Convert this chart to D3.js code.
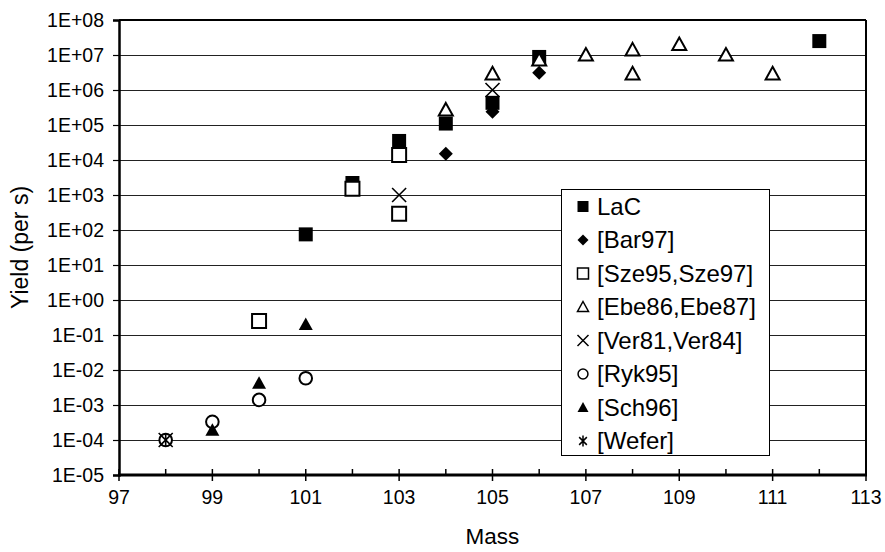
<!DOCTYPE html>
<html>
<head>
<meta charset="utf-8">
<script src="https://cdn.jsdelivr.net/npm/d3@7"></script>
<style>
  body { margin: 0; background: #fff; }
  text { font-family: "Liberation Sans", Arial, sans-serif; fill: #000; }
</style>
</head>
<body>
<div id="chart"></div>
<script>
// series data (mass, yield per s)
const lacMass = [101, 102, 103, 104, 105, 106, 112];
const lacYield = [75, 2200, 35000, 110000, 430000, 8.8e6, 2.5e7];

const barMass = [104, 105, 106];
const barYield = [1.5e4, 2.4e5, 3.1e6];

const szeMass = [100, 102, 103, 103];
const szeYield = [0.25, 1500, 14000, 290];

const ebeMass = [104, 105, 106, 107, 108, 108, 109, 110, 111];
const ebeYield = [2.7e5, 2.9e6, 7.2e6, 1e7, 1.4e7, 2.9e6, 2e7, 1e7, 2.9e6];

const verMass = [98, 103, 105];
const verYield = [1e-4, 1000, 1e6];

const rykMass = [98, 99, 100, 101];
const rykYield = [1e-4, 3.3e-4, 1.4e-3, 5.8e-3];

const schMass = [99, 100, 101];
const schYield = [1.9e-4, 4.2e-3, 0.2];

const weferMass = [98];
const weferYield = [1e-4];

const seriesNames = ["LaC", "[Bar97]", "[Sze95,Sze97]", "[Ebe86,Ebe87]", "[Ver81,Ver84]", "[Ryk95]", "[Sch96]", "[Wefer]"];
const seriesShapes = ["square", "diamond", "osquare", "otriangle", "x", "ocircle", "triangle", "asterisk"];

const xTicks = [97, 99, 101, 103, 105, 107, 109, 111, 113];
const yTicks = [1e-5, 1e-4, 1e-3, 1e-2, 1e-1, 1, 1e1, 1e2, 1e3, 1e4, 1e5, 1e6, 1e7, 1e8];

const series = [
    [lacMass, lacYield], [barMass, barYield], [szeMass, szeYield], [ebeMass, ebeYield],
    [verMass, verYield], [rykMass, rykYield], [schMass, schYield], [weferMass, weferYield]
].map((s, i) => ({
    name: seriesNames[i],
    shape: seriesShapes[i],
    points: s[0].map((m, j) => ({ m: m, v: s[1][j] }))
}));

const svg = d3.select("#chart")
    .append("svg")
    .attr("width", 885)
    .attr("height", 552);

const x = d3.scaleLinear().domain([97, 113]).range([119, 866]);
const y = d3.scaleLog().domain([1e-5, 1e8]).range([475, 20]);

// marker path, centred on 0,0, r = half size
function marker(shape, r) {
    const p = d3.path();
    if (shape == "square" || shape == "osquare") {
        p.rect(-r, -r, 2 * r, 2 * r);
    } else if (shape == "diamond") {
        p.moveTo(0, -r); p.lineTo(r, 0); p.lineTo(0, r); p.lineTo(-r, 0); p.closePath();
    } else if (shape == "triangle" || shape == "otriangle") {
        p.moveTo(0, -r); p.lineTo(r, r * 0.8); p.lineTo(-r, r * 0.8); p.closePath();
    } else if (shape == "ocircle") {
        p.arc(0, 0, r * 0.9, 0, 2 * Math.PI);
    } else if (shape == "x") {
        p.moveTo(-r, -r); p.lineTo(r, r); p.moveTo(r, -r); p.lineTo(-r, r);
    } else if (shape == "asterisk") {
        p.moveTo(-r * 0.7, -r * 0.7); p.lineTo(r * 0.7, r * 0.7);
        p.moveTo(r * 0.7, -r * 0.7); p.lineTo(-r * 0.7, r * 0.7);
        p.moveTo(0, -r); p.lineTo(0, r);
    }
    return p.toString();
}

function styleMarker(sel, shape) {
    const open = ["osquare", "otriangle", "ocircle"].includes(shape);
    const line = shape == "x" || shape == "asterisk";
    sel.attr("fill", line ? "none" : (open ? "#fff" : "#000"))
        .attr("stroke", (open || line) ? "#000" : "none")
        .attr("stroke-width", line ? 1.6 : 2);
}

// gridlines
svg.append("g")
    .selectAll("line")
    .data(yTicks.slice(1))
    .enter()
    .append("line")
    .attr("x1", x(97)).attr("x2", x(113))
    .attr("y1", d => Math.round(y(d)) + 0.5)
    .attr("y2", d => Math.round(y(d)) + 0.5)
    .attr("stroke", "#222")
    .attr("stroke-width", 1);

// frame top / right
svg.append("line")
    .attr("x1", x(97)).attr("x2", x(113)).attr("y1", y(1e8)).attr("y2", y(1e8))
    .attr("stroke", "#000").attr("stroke-width", 2);
svg.append("line")
    .attr("x1", x(113)).attr("x2", x(113)).attr("y1", y(1e8)).attr("y2", y(1e-5))
    .attr("stroke", "#000").attr("stroke-width", 2);

// Y axis
const yAxis = svg.append("g")
    .attr("transform", "translate(" + x(97) + ",0)")
    .call(d3.axisLeft(y).tickValues(yTicks).tickSize(6).tickPadding(9)
        .tickFormat(d => {
            const e = Math.round(Math.log10(d));
            return "1E" + (e < 0 ? "-" : "+") + String(Math.abs(e)).padStart(2, "0");
        }));
yAxis.select(".domain").attr("stroke-width", 2.5);
yAxis.selectAll(".tick line").attr("stroke-width", 1.2);
yAxis.selectAll("text").style("font-size", "19.5px").attr("font-family", null);

// X axis: minor ticks inside, major ticks crossing
svg.append("g")
    .selectAll("line")
    .data(d3.range(97, 114))
    .enter()
    .append("line")
    .attr("x1", d => x(d)).attr("x2", d => x(d))
    .attr("y1", y(1e-5) - 6)
    .attr("y2", d => xTicks.includes(d) ? y(1e-5) + 6 : y(1e-5))
    .attr("stroke", "#000")
    .attr("stroke-width", 1.5);

svg.append("line")
    .attr("x1", x(97) - 1).attr("x2", x(113) + 1).attr("y1", y(1e-5)).attr("y2", y(1e-5))
    .attr("stroke", "#000").attr("stroke-width", 3);

svg.append("g")
    .selectAll("text")
    .data(xTicks)
    .enter()
    .append("text")
    .attr("x", d => x(d))
    .attr("y", 504)
    .attr("text-anchor", "middle")
    .style("font-size", "19.5px")
    .text(d => d);

// axis titles
svg.append("text")
    .attr("x", (x(97) + x(113)) / 2)
    .attr("y", 544)
    .attr("text-anchor", "middle")
    .style("font-size", "22.5px")
    .text("Mass");

svg.append("text")
    .attr("transform", "translate(28," + (y(1e-5) + y(1e8)) / 2 + ") rotate(-90)")
    .attr("text-anchor", "middle")
    .style("font-size", "23px")
    .text("Yield (per s)");

// points
series.forEach(s => {
    svg.append("g")
        .selectAll("path")
        .data(s.points)
        .enter()
        .append("path")
        .attr("transform", d => "translate(" + x(d.m) + "," + y(d.v) + ")")
        .attr("d", marker(s.shape, 7))
        .call(styleMarker, s.shape);
});

// legend
const legend = svg.append("g");
legend.append("rect")
    .attr("x", 561.5).attr("y", 189.5)
    .attr("width", 208).attr("height", 266)
    .attr("fill", "#fff")
    .attr("stroke", "#000")
    .attr("stroke-width", 1);

const item = legend.selectAll(".legend")
    .data(series)
    .enter().append("g")
    .attr("class", "legend")
    .attr("transform", (d, i) => "translate(0," + (206.5 + i * 33.5) + ")");

item.append("path")
    .attr("transform", "translate(583,0)")
    .attr("d", d => marker(d.shape, 5.5))
    .each(function(d) { d3.select(this).call(styleMarker, d.shape); })
    .attr("stroke-width", 1.5);

item.append("text")
    .attr("x", 597)
    .attr("dy", ".35em")
    .style("font-size", "24px")
    .text(d => d.name);
</script>
</body>
</html>
